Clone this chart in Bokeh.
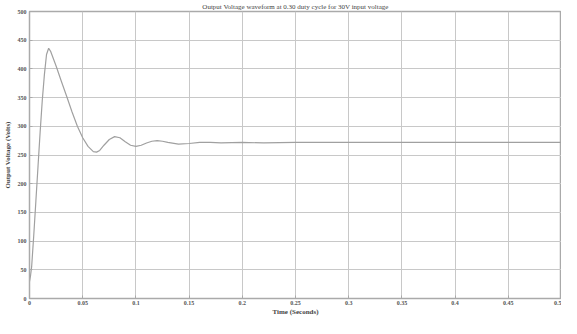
from bokeh.plotting import figure
from bokeh.models import Range1d, FixedTicker, Title
from bokeh.embed import file_html
from bokeh.resources import INLINE

time_s = [0.0, 0.001, 0.002, 0.004, 0.006, 0.008, 0.010, 0.012, 0.014, 0.016,
          0.018, 0.020, 0.025, 0.030, 0.035, 0.040, 0.045, 0.050, 0.055, 0.060,
          0.063, 0.066, 0.070, 0.075, 0.080, 0.085, 0.090, 0.095, 0.100, 0.105,
          0.110, 0.115, 0.120, 0.125, 0.130, 0.140, 0.150, 0.160, 0.170, 0.180,
          0.200, 0.220, 0.250, 0.300, 0.350, 0.400, 0.450, 0.500]
voltage_v = [30, 40, 55, 110, 170, 230, 290, 345, 390, 425,
             436, 430, 405, 378, 352, 325, 300, 280, 265, 256,
             255, 258, 267, 277, 282, 280, 273, 267, 265, 267,
             271, 274, 275, 274, 272, 269, 270, 272, 272, 271,
             272, 271, 272, 272, 272, 272, 272, 272]

x_ticks = [0, 0.05, 0.1, 0.15, 0.2, 0.25, 0.3, 0.35, 0.4, 0.45, 0.5]
y_ticks = [0, 50, 100, 150, 200, 250, 300, 350, 400, 450, 500]

FONT = "Liberation Serif"

p = figure(width=561, height=318, output_backend="svg", toolbar_location=None,
           x_range=Range1d(0, 0.5), y_range=Range1d(0, 500),
           min_border_left=4, min_border_right=0, min_border_top=6, min_border_bottom=0)
p.title = Title(text="Output Voltage waveform at 0.30 duty cycle for 30V input voltage",
                align="center", text_font=FONT, text_font_size="7px",
                text_font_style="normal", text_color="#444444", offset=0, standoff=1)

p.line(time_s, voltage_v, line_color="#a0a0a0", line_width=1.2)

for ax in (p.xaxis[0], p.yaxis[0]):
    ax.major_label_text_font = FONT
    ax.major_label_text_font_size = "6px"
    ax.major_label_text_font_style = "bold"
    ax.major_label_text_color = "#555555"
    ax.axis_label_text_font = FONT
    ax.axis_label_text_font_size = "7px"
    ax.axis_label_text_font_style = "bold"
    ax.axis_label_text_color = "#444444"
    ax.axis_line_color = "#aaaaaa"
    ax.major_tick_line_color = "#aaaaaa"
    ax.major_tick_in = 3
    ax.major_tick_out = 0
    ax.minor_tick_line_color = None
    ax.major_label_standoff = 3
    ax.axis_label_standoff = 3

p.xaxis[0].major_label_standoff = 2
p.xaxis[0].axis_label_standoff = 0

p.xaxis.ticker = FixedTicker(ticks=x_ticks)
p.yaxis.ticker = FixedTicker(ticks=y_ticks)
p.xaxis.axis_label = "Time (Seconds)"
p.yaxis.axis_label = "Output Voltage (Volts)"

p.xgrid.ticker = FixedTicker(ticks=x_ticks)
p.ygrid.ticker = FixedTicker(ticks=y_ticks)
p.grid.grid_line_color = "#c8c8c8"
p.grid.grid_line_width = 1
p.outline_line_color = "#aaaaaa"
p.outline_line_width = 1.5

open("out.html", "w").write(file_html(p, INLINE))
